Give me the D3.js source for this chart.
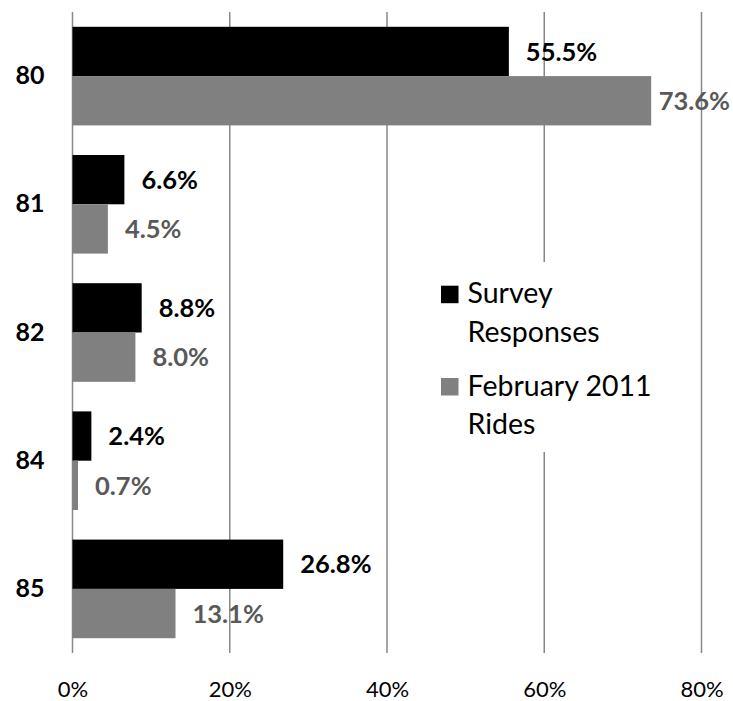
<!DOCTYPE html>
<html>
<head>
<meta charset="utf-8">
<script src="https://cdn.jsdelivr.net/npm/d3@7"></script>
<style>
  html, body { margin: 0; padding: 0; background: #fff; }
  svg { display: block; font-family: Lato, "Open Sans", sans-serif; }
</style>
</head>
<body>
<svg id="chart" width="733" height="701"></svg>
<script>
// Route share by category
const routes = ["80", "81", "82", "84", "85"];
const surveyResponses = [55.5, 6.6, 8.8, 2.4, 26.8];
const februaryRides = [73.6, 4.5, 8.0, 0.7, 13.1];
const seriesNames = [["Survey", "Responses"], ["February 2011", "Rides"]];
const xTicks = [0, 20, 40, 60, 80];

const barColors = ["#000000", "#808080"];
const labelColors = ["#000000", "#595959"];

const svg = d3.select("#chart");
const margin = { left: 72.5, right: 31.5, top: 12, bottom: 48 };
const W = 733, H = 701;

const x = d3.scaleLinear().domain([0, 80]).range([margin.left, W - margin.right]);
const y = d3.scaleBand().domain(routes).range([margin.top, H - margin.bottom])
  .paddingInner(0.2308).paddingOuter(0.1154);
const sub = d3.scaleBand().domain([0, 1]).range([0, y.bandwidth()]);

// vertical gridlines
svg.append("g").selectAll("line").data(xTicks).join("line")
  .attr("x1", d => x(d)).attr("x2", d => x(d))
  .attr("y1", margin.top).attr("y2", H - margin.bottom)
  .attr("stroke", "#888").attr("stroke-width", 1.5);

// x axis labels
const xAxis = d3.axisBottom(x).tickValues(xTicks).tickFormat(d => d + "%").tickSize(0).tickPadding(0);
const gx = svg.append("g").attr("transform", `translate(0,${H - margin.bottom})`).call(xAxis);
gx.select(".domain").remove();
gx.selectAll("text").attr("font-family", "Lato, sans-serif").attr("font-size", 22)
  .attr("fill", "#000").attr("dy", null).attr("y", 44);

// category axis labels
const yAxis = d3.axisLeft(y).tickSize(0).tickPadding(28);
const gy = svg.append("g").attr("transform", `translate(${margin.left},0)`).call(yAxis);
gy.select(".domain").remove();
gy.selectAll("text").attr("font-family", "Lato, sans-serif").attr("font-size", 25)
  .attr("font-weight", "bold").attr("fill", "#000");

const rows = routes.map((r, i) => ({ route: r, vals: [surveyResponses[i], februaryRides[i]] }));

const groups = svg.append("g").selectAll("g").data(rows).join("g")
  .attr("transform", d => `translate(0,${y(d.route)})`);

groups.selectAll("rect").data(d => d.vals.map((v, k) => ({ v, k }))).join("rect")
  .attr("x", x(0)).attr("y", d => sub(d.k))
  .attr("width", d => x(d.v) - x(0)).attr("height", sub.bandwidth())
  .attr("fill", d => barColors[d.k]);

// value labels, pulled back inside the chart if they would run off the right edge
groups.selectAll("text").data(d => d.vals.map((v, k) => ({ v, k }))).join("text")
  .attr("y", d => sub(d.k) + sub.bandwidth() / 2)
  .attr("dy", "0.36em")
  .attr("font-size", 25.5).attr("font-weight", "bold")
  .attr("fill", d => labelColors[d.k])
  .text(d => d.v.toFixed(1) + "%")
  .attr("x", function (d) {
    const w = this.getComputedTextLength();
    return Math.min(x(d.v) + 17, W - 3 - w);
  });

// legend
const legend = svg.append("g");
legend.append("rect").attr("x", 432).attr("y", 262).attr("width", 258).attr("height", 190).attr("fill", "#fff");
seriesNames.forEach((lines, k) => {
  const top = 285.7 + k * 92.3;
  legend.append("rect").attr("x", 441).attr("y", top).attr("width", 17.5).attr("height", 17.5)
    .attr("fill", barColors[k]);
  lines.forEach((t, j) => {
    legend.append("text").attr("x", 467.5).attr("y", top + 17.5 + j * 38.6)
      .attr("font-size", 28.5).attr("fill", "#000").text(t);
  });
});
</script>
</body>
</html>
